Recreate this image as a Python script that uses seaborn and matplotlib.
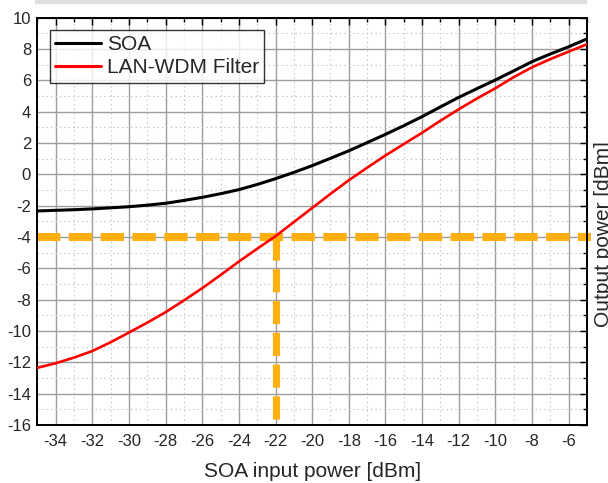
import numpy as np
import pandas as pd
import seaborn as sns
import matplotlib.pyplot as plt
from matplotlib.patches import Rectangle
from matplotlib.ticker import MultipleLocator

# values
input_power = [-35, -34, -33, -32, -31, -30, -29, -28, -27, -26, -25, -24, -23, -22, -21, -20,
               -19, -18, -17, -16, -15, -14, -13, -12, -11, -10, -9, -8, -7, -6, -5]
soa_out = [-2.34, -2.30, -2.26, -2.21, -2.14, -2.07, -1.97, -1.85, -1.67, -1.47, -1.24, -0.98,
           -0.65, -0.28, 0.12, 0.55, 1.02, 1.50, 2.02, 2.55, 3.10, 3.68, 4.30, 4.91, 5.47,
           6.02, 6.60, 7.19, 7.68, 8.14, 8.64]
filter_out = [-12.35, -12.06, -11.70, -11.28, -10.72, -10.10, -9.47, -8.80, -8.05, -7.27,
              -6.43, -5.57, -4.75, -3.95, -3.05, -2.15, -1.25, -0.38, 0.42, 1.20, 1.93,
              2.65, 3.42, 4.15, 4.84, 5.49, 6.20, 6.83, 7.35, 7.83, 8.30]
guide_x = -22
guide_y = -4
x_ticks = list(range(-34, -5, 2))
y_ticks = list(range(-16, 11, 2))

sns.set_style("white")
plt.rcParams['font.family'] = ['Liberation Sans', 'DejaVu Sans']
plt.rcParams['axes.unicode_minus'] = False

data = pd.DataFrame({"x": input_power, "SOA": soa_out, "LAN-WDM Filter": filter_out})

fig = plt.figure(figsize=(6.08, 4.83), dpi=100)
ax = fig.add_axes([37.3 / 608, 1 - 425 / 483, 549.7 / 608, 407.4 / 483])

#grid
ax.xaxis.set_minor_locator(MultipleLocator(1))
ax.yaxis.set_minor_locator(MultipleLocator(1))
ax.grid(which="major", color="#9e9e9e", lw=1.0, zorder=0)
ax.grid(which="minor", color="#cccccc", lw=0.8, ls=(0, (1.5, 2.5)), zorder=0)
ax.set_axisbelow(True)

#orange guide lines
ax.plot([input_power[0], input_power[-1] + 0.2], [guide_y, guide_y], color="#ffb010", lw=5.8,
        dashes=(2.9, 1.05), dash_capstyle="butt", zorder=2, clip_on=False)
ax.plot([guide_x, guide_x], [guide_y, y_ticks[0]], color="#ffb010", lw=5.2,
        dashes=(3.2, 1.2), dash_capstyle="butt", zorder=2)

#curves
sns.lineplot(data=data, x="x", y="SOA", color="black", lw=2.2, label="SOA", ax=ax, zorder=3)
sns.lineplot(data=data, x="x", y="LAN-WDM Filter", color="#ff0000", lw=1.9,
             label="LAN-WDM Filter", ax=ax, zorder=3)

ax.set_xlim(-35, -5)
ax.set_ylim(-16, 10)
ax.set_xticks(x_ticks)
ax.set_yticks(y_ticks)
ax.tick_params(which="both", direction="in", top=True, right=True, width=1.0, color="black",
               labelsize=12)
ax.tick_params(which="major", length=5)
ax.tick_params(which="minor", length=3)
ax.tick_params(axis="x", pad=6.5)
ax.tick_params(axis="y", pad=4.5)
for s in ax.spines.values():
    s.set_color("black")
    s.set_linewidth(1.4)

ax.set_xlabel("SOA input power [dBm]", fontsize=15, labelpad=9)
ax.set_ylabel("")
fig.text(594 / 608, 1 - 234 / 483, "Output power [dBm]", rotation=90, fontsize=15,
         ha="left", va="center")

leg = ax.legend(loc="upper left", fontsize=15, frameon=True, fancybox=False, borderpad=0.25,
                handlelength=2.2, handletextpad=0.3, labelspacing=0.2, borderaxespad=0.6)
leg.get_frame().set_edgecolor("black")
leg.get_frame().set_linewidth(1.0)
for h in leg.get_lines():
    h.set_linewidth(2.2)

#light gray strip at the top edge
fig.patches.append(Rectangle((35 / 608, 1 - 3 / 483), 551 / 608, 3 / 483,
                             transform=fig.transFigure, color="#e0e0e0", zorder=0))

fig.savefig("out.png", dpi=100)
